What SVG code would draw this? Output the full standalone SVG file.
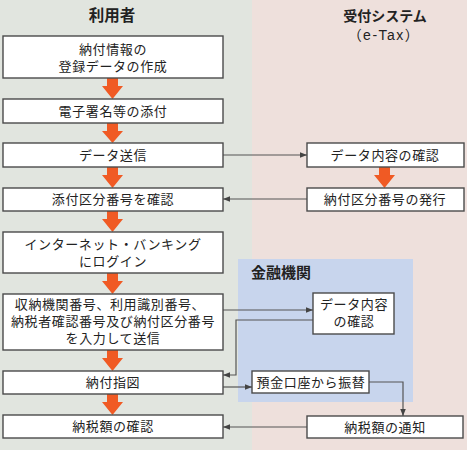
<svg xmlns="http://www.w3.org/2000/svg" width="467" height="450" viewBox="0 0 467 450">
<style>
  .box{fill:#ffffff;stroke:#4a4a4a;stroke-width:1.4}
  .t{font-family:"Liberation Sans","Noto Sans CJK JP",sans-serif;font-size:13px;fill:#222;text-anchor:middle;letter-spacing:0.6px}
  .h{font-family:"Liberation Sans","Noto Sans CJK JP",sans-serif;font-weight:bold;fill:#222;text-anchor:middle}
  .oa{fill:#f05a24}
  .c{fill:none;stroke:#555;stroke-width:1.2}
</style>
<defs>
  <marker id="ah" viewBox="0 0 8 8" refX="8" refY="4" markerWidth="7" markerHeight="7" markerUnits="userSpaceOnUse" orient="auto">
    <path d="M0,0.8 L8,4 L0,7.2 Z" fill="#444"/>
  </marker>
</defs>
<g id="background">
  <rect x="0" y="0" width="252" height="450" fill="#e1e5df"/>
  <rect x="252" y="0" width="215" height="450" fill="#eee0dc"/>
  <rect x="238" y="259" width="175" height="143" fill="#c8d5ed"/>
</g>
<g id="titles">
  <text class="h" x="112" y="21" font-size="15.5">利用者</text>
  <text class="h" x="385" y="21" font-size="14">受付システム</text>
  <text class="t" x="384" y="40" style="font-size:14px;letter-spacing:1.5px">（e-Tax）</text>
  <text class="h" x="281" y="278" font-size="15">金融機関</text>
</g>
<g id="orange-arrows">
  <path class="oa" d="M107,78 H118 V86 H123 L112.5,99 L102,86 H107 Z"/>
  <path class="oa" d="M107,123 H118 V131 H123 L112.5,143 L102,131 H107 Z"/>
  <path class="oa" d="M107,167 H118 V175 H123 L112.5,188 L102,175 H107 Z"/>
  <path class="oa" d="M107,211 H118 V219 H123 L112.5,232 L102,219 H107 Z"/>
  <path class="oa" d="M107,273 H118 V281 H123 L112.5,294 L102,281 H107 Z"/>
  <path class="oa" d="M107,350 H118 V358 H123 L112.5,371 L102,358 H107 Z"/>
  <path class="oa" d="M107,394 H118 V402 H123 L112.5,415 L102,402 H107 Z"/>
  <path class="oa" d="M379,167 H390 V175 H395 L384.5,188 L374,175 H379 Z"/>
</g>
<g id="connectors">
  <line class="c" x1="223" y1="155" x2="307" y2="155" marker-end="url(#ah)"/>
  <line class="c" x1="307" y1="199" x2="223" y2="199" marker-end="url(#ah)"/>
  <line class="c" x1="223" y1="310" x2="313" y2="310" marker-end="url(#ah)"/>
  <polyline class="c" points="313,320 236,320 236,375 223,375" marker-end="url(#ah)"/>
  <line class="c" x1="223" y1="387" x2="252" y2="387" marker-end="url(#ah)"/>
  <polyline class="c" points="369,382 403,382 403,416" marker-end="url(#ah)"/>
  <line class="c" x1="307" y1="427" x2="223" y2="427" marker-end="url(#ah)"/>
</g>
<g id="n1"><rect class="box" x="3" y="36" width="220" height="42"/><text class="t" x="113" y="54">納付情報の</text><text class="t" x="113" y="71">登録データの作成</text></g>
<g id="n2"><rect class="box" x="3" y="99" width="220" height="24"/><text class="t" x="113" y="116">電子署名等の添付</text></g>
<g id="n3"><rect class="box" x="3" y="143" width="220" height="24"/><text class="t" x="113" y="160">データ送信</text></g>
<g id="n4"><rect class="box" x="3" y="188" width="220" height="23"/><text class="t" x="113" y="204">添付区分番号を確認</text></g>
<g id="n5"><rect class="box" x="3" y="232" width="220" height="41"/><text class="t" x="113" y="249">インターネット・バンキング</text><text class="t" x="113" y="266">にログイン</text></g>
<g id="n6"><rect class="box" x="3" y="294" width="220" height="56"/><text class="t" x="110" y="309">収納機関番号、利用識別番号、</text><text class="t" x="113" y="326">納税者確認番号及び納付区分番号</text><text class="t" x="113" y="343">を入力して送信</text></g>
<g id="n7"><rect class="box" x="3" y="371" width="220" height="23"/><text class="t" x="113" y="387">納付指図</text></g>
<g id="n8"><rect class="box" x="3" y="415" width="220" height="23"/><text class="t" x="113" y="431">納税額の確認</text></g>
<g id="e1"><rect class="box" x="307" y="143" width="157" height="24"/><text class="t" x="385" y="160">データ内容の確認</text></g>
<g id="e2"><rect class="box" x="307" y="188" width="157" height="23"/><text class="t" x="385" y="204">納付区分番号の発行</text></g>
<g id="b1"><rect class="box" x="313" y="293" width="81" height="41"/><text class="t" x="354" y="309">データ内容</text><text class="t" x="354" y="326">の確認</text></g>
<g id="b2"><rect class="box" x="252" y="371" width="117" height="22"/><text class="t" x="311" y="387">預金口座から振替</text></g>
<g id="e3"><rect class="box" x="307" y="416" width="156" height="22"/><text class="t" x="385" y="432">納税額の通知</text></g>
</svg>
